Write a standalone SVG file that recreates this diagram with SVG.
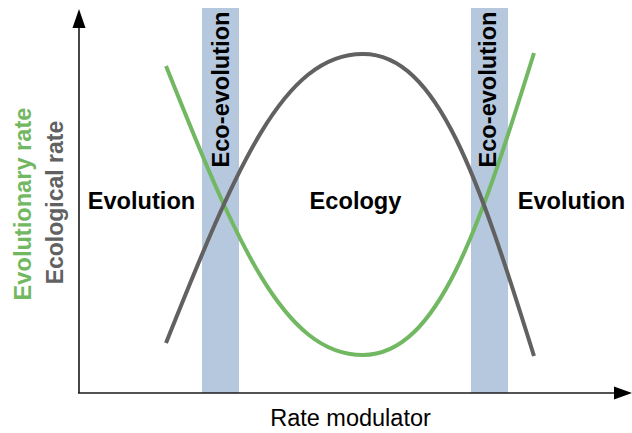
<svg xmlns="http://www.w3.org/2000/svg" width="632" height="433" viewBox="0 0 632 433">
<style>
.band{fill:#b5c8de;}
.axis{stroke:#1a1a1a;stroke-width:1.6;fill:none;}
.curve{fill:none;stroke-width:4;stroke-linecap:butt;}
.green{stroke:#72b862;}
.gray{stroke:#616161;}
text{font-family:"Liberation Sans",Arial,sans-serif;}
.lbl{font-weight:bold;font-size:23.6px;fill:#000;}
</style>
<rect width="632" height="433" fill="#fff"/>
<g id="band-left"><rect class="band" x="202" y="8" width="37" height="385"/></g>
<g id="band-right"><rect class="band" x="471" y="8" width="37" height="385"/></g>
<g id="axes">
<line class="axis" x1="79" y1="393" x2="79" y2="26"/>
<polygon points="79,9 72.5,28 85.5,28" fill="#000"/>
<line class="axis" x1="78" y1="393" x2="617" y2="393"/>
<polygon points="632,393 614,386.5 614,399.5" fill="#000"/>
</g>
<g id="connectors">
<path id="green-curve" class="curve green" d="M166,66 C236,241 283,355 363,355 C438,355 479,229 534,53"/>
<path id="gray-curve" class="curve gray" d="M166,343 C236,168 283,54 363,54 C438,54 479,180 534,356"/>
</g>
<g id="labels">
<text class="lbl" transform="translate(228.5,89.5) rotate(-90)" text-anchor="middle">Eco-evolution</text>
<text class="lbl" transform="translate(496,89.5) rotate(-90)" text-anchor="middle">Eco-evolution</text>
<text class="lbl" x="141.5" y="208.5" text-anchor="middle">Evolution</text>
<text class="lbl" x="355.5" y="208.5" text-anchor="middle">Ecology</text>
<text class="lbl" x="571.5" y="208.5" text-anchor="middle">Evolution</text>
<text transform="translate(30.5,204) rotate(-90)" text-anchor="middle" font-weight="bold" font-size="23.6" fill="#72b862">Evolutionary rate</text>
<text transform="translate(62.5,202.5) rotate(-90)" text-anchor="middle" font-weight="bold" font-size="23" fill="#616161">Ecological rate</text>
<text x="350.5" y="426" text-anchor="middle" font-size="23.5" fill="#000">Rate modulator</text>
</g>
</svg>
